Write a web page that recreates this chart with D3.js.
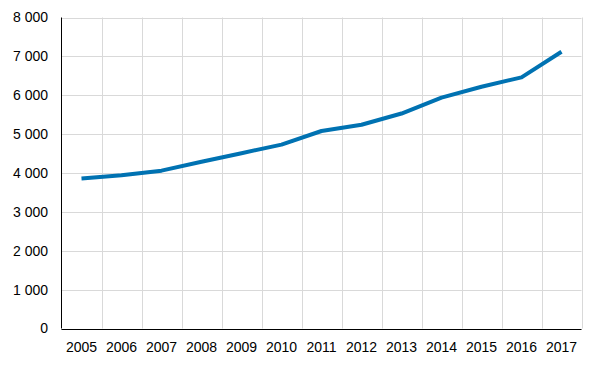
<!DOCTYPE html>
<html lang="en">
<head>
<meta charset="UTF-8">
<title>Line chart</title>
<script src="https://d3js.org/d3.v7.min.js"></script>
<style>
    body { margin: 0; background: #fff; }
    .tick-label { font-family: "Liberation Sans", Arial, sans-serif; font-size: 14px; fill: #000; }
</style>
</head>
<body>
<script>
    var years = ["2005", "2006", "2007", "2008", "2009", "2010", "2011", "2012", "2013", "2014", "2015", "2016", "2017"];
    var values = [3860, 3940, 4060, 4290, 4510, 4730, 5080, 5240, 5530, 5940, 6220, 6460, 7120];
    var yTicks = [0, 1000, 2000, 3000, 4000, 5000, 6000, 7000, 8000];

    var w = 600, h = 365;
    var margin = { left: 61.5, right: 18.5, top: 17.5, bottom: 36.5 };

    var svg = d3.select("body").append("svg")
        .attr("width", w)
        .attr("height", h);

    var xScale = d3.scaleBand()
        .domain(years)
        .range([margin.left, w - margin.right]);

    var yScale = d3.scaleLinear()
        .domain([0, 8000])
        .range([h - margin.bottom, margin.top]);

    var fmt = function (d) { return d3.format(",")(d).replace(/,/g, " "); };

    // horizontal grid
    svg.append("g")
        .selectAll("line")
        .data(yTicks)
        .enter()
        .append("line")
        .attr("x1", margin.left)
        .attr("x2", w - margin.right)
        .attr("y1", function (d) { return Math.round(yScale(d)) + 0.5; })
        .attr("y2", function (d) { return Math.round(yScale(d)) + 0.5; })
        .style("stroke", "#d9d9d9")
        .style("stroke-width", 1);

    // vertical grid at category boundaries
    var bounds = years.map(function (d) { return xScale(d); }).concat([w - margin.right]);
    svg.append("g")
        .selectAll("line")
        .data(bounds.slice(1))
        .enter()
        .append("line")
        .attr("x1", function (d) { return Math.round(d) + 0.5; })
        .attr("x2", function (d) { return Math.round(d) + 0.5; })
        .attr("y1", margin.top)
        .attr("y2", h - margin.bottom)
        .style("stroke", "#d9d9d9")
        .style("stroke-width", 1);

    // axes lines
    svg.append("line")
        .attr("x1", margin.left).attr("x2", margin.left)
        .attr("y1", margin.top).attr("y2", h - margin.bottom)
        .style("stroke", "#000");
    svg.append("line")
        .attr("x1", margin.left).attr("x2", w - margin.right)
        .attr("y1", Math.round(yScale(0)) + 0.5).attr("y2", Math.round(yScale(0)) + 0.5)
        .style("stroke", "#000");

    // y labels
    svg.append("g")
        .selectAll("text")
        .data(yTicks)
        .enter()
        .append("text")
        .attr("class", "tick-label")
        .attr("x", 48)
        .attr("y", function (d) { return yScale(d); })
        .attr("dy", "0.35em")
        .attr("text-anchor", "end")
        .text(fmt);

    // x labels
    svg.append("g")
        .selectAll("text")
        .data(years)
        .enter()
        .append("text")
        .attr("class", "tick-label")
        .attr("x", function (d) { return xScale(d) + xScale.bandwidth() / 2; })
        .attr("y", 352)
        .attr("text-anchor", "middle")
        .text(function (d) { return d; });

    var line = d3.line()
        .x(function (d, i) { return xScale(years[i]) + xScale.bandwidth() / 2; })
        .y(function (d) { return yScale(d); });

    svg.append("path")
        .datum(values)
        .attr("d", line)
        .style("fill", "none")
        .style("stroke", "#0072b2")
        .style("stroke-width", 4)
        .style("stroke-linejoin", "round");
</script>
</body>
</html>
